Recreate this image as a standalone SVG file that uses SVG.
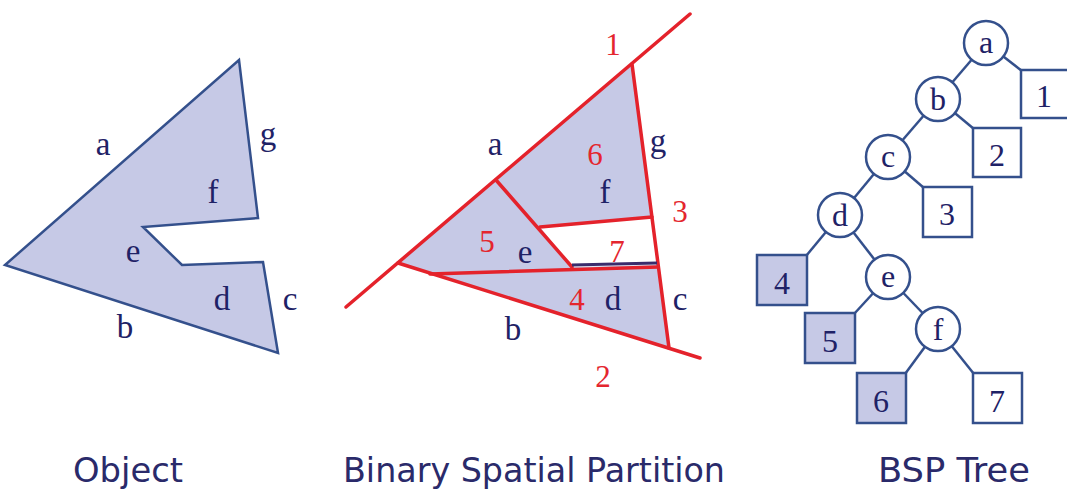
<svg xmlns="http://www.w3.org/2000/svg" width="1067" height="492" viewBox="0 0 1067 492">
<style>
.obj{fill:#C6C9E6;stroke:#34508C;stroke-width:2.5;stroke-linejoin:miter}
.fillp{fill:#C6C9E6;stroke:none}
.red{stroke:#E4222B;stroke-width:3.5;fill:none;stroke-linecap:round}
.lt{font-family:"Liberation Serif","Times New Roman",serif;font-size:33px;fill:#1F2266;text-anchor:middle}
.rn{font-family:"Liberation Serif","Times New Roman",serif;font-size:31px;fill:#E4262E;text-anchor:middle}
.tl{font-family:"Liberation Serif","Times New Roman",serif;font-size:32px;fill:#1F2266;text-anchor:middle}
.node{fill:#FFFFFF;stroke:#34508C;stroke-width:2.5}
.leaf{fill:#FFFFFF;stroke:#34508C;stroke-width:2.5}
.leafs{fill:#C6C9E6;stroke:#34508C;stroke-width:2.5}
.edge{stroke:#34508C;stroke-width:2.5;fill:none}
.cap{font-family:"DejaVu Sans","Verdana",sans-serif;font-size:34px;fill:#2A2A6A}
</style>
<rect width="1067" height="492" fill="#FFFFFF"/>

<!-- Object -->
<g id="object">
<polygon class="obj" points="239,60 258,218 143,227 182,265 263,262 278,353 5,265"/>
<text class="lt" x="103" y="155">a</text>
<text class="lt" x="268" y="145">g</text>
<text class="lt" x="213" y="203">f</text>
<text class="lt" x="133" y="262">e</text>
<text class="lt" x="222" y="310">d</text>
<text class="lt" x="290" y="310">c</text>
<text class="lt" x="125" y="338">b</text>
</g>

<!-- Binary Spatial Partition -->
<g id="partition">
<path class="fillp" fill-rule="evenodd" d="M398,263 L632,64 L669,348 Z M540,227 L652,217 L658,265 L572,267 Z"/>
<line class="red" x1="346" y1="307" x2="690" y2="14"/>
<line class="red" x1="398" y1="263" x2="700" y2="358"/>
<line class="red" x1="632" y1="64" x2="669" y2="348"/>
<line class="red" x1="496" y1="180" x2="572" y2="267"/>
<line class="red" x1="540" y1="227" x2="652" y2="217"/>
<line class="red" x1="430" y1="274" x2="658" y2="267"/>
<line x1="572" y1="265" x2="657" y2="263" stroke="#3A2C6C" stroke-width="3"/>
<text class="rn" x="613" y="55">1</text>
<text class="lt" x="495" y="155">a</text>
<text class="rn" x="595" y="165">6</text>
<text class="lt" x="658" y="152">g</text>
<text class="lt" x="605" y="203">f</text>
<text class="rn" x="680" y="222">3</text>
<text class="rn" x="487" y="252">5</text>
<text class="lt" x="525" y="263">e</text>
<text class="rn" x="617" y="262">7</text>
<text class="rn" x="577" y="310">4</text>
<text class="lt" x="613" y="310">d</text>
<text class="lt" x="680" y="310">c</text>
<text class="lt" x="513" y="340">b</text>
<text class="rn" x="603" y="387">2</text>
</g>

<!-- BSP Tree connectors -->
<g id="connectors">
<line class="edge" x1="986" y1="43" x2="938" y2="99"/>
<line class="edge" x1="986" y1="43" x2="1022" y2="71"/>
<line class="edge" x1="938" y1="99" x2="888" y2="157"/>
<line class="edge" x1="938" y1="99" x2="974" y2="129"/>
<line class="edge" x1="888" y1="157" x2="840" y2="215"/>
<line class="edge" x1="888" y1="157" x2="924" y2="188"/>
<line class="edge" x1="840" y1="215" x2="806" y2="256"/>
<line class="edge" x1="840" y1="215" x2="888" y2="277"/>
<line class="edge" x1="888" y1="277" x2="854" y2="314"/>
<line class="edge" x1="888" y1="277" x2="938" y2="329"/>
<line class="edge" x1="938" y1="329" x2="905" y2="374"/>
<line class="edge" x1="938" y1="329" x2="974" y2="374"/>
</g>

<g id="node-a"><circle class="node" cx="986" cy="43" r="22"/><text class="tl" x="986" y="53">a</text></g>
<g id="node-b"><circle class="node" cx="938" cy="99" r="22"/><text class="tl" x="938" y="110">b</text></g>
<g id="node-c"><circle class="node" cx="888" cy="157" r="22"/><text class="tl" x="888" y="167">c</text></g>
<g id="node-d"><circle class="node" cx="840" cy="215" r="22"/><text class="tl" x="840" y="226">d</text></g>
<g id="node-e"><circle class="node" cx="888" cy="277" r="22"/><text class="tl" x="888" y="287">e</text></g>
<g id="node-f"><circle class="node" cx="938" cy="329" r="22"/><text class="tl" x="938" y="340">f</text></g>

<g id="leaf-1"><rect class="leaf" x="1021" y="70" width="48" height="48"/><text class="tl" x="1044" y="107">1</text></g>
<g id="leaf-2"><rect class="leaf" x="973" y="128" width="48" height="49"/><text class="tl" x="997" y="166">2</text></g>
<g id="leaf-3"><rect class="leaf" x="923" y="187" width="49" height="50"/><text class="tl" x="947" y="225">3</text></g>
<g id="leaf-4"><rect class="leafs" x="757" y="255" width="50" height="50"/><text class="tl" x="782" y="294">4</text></g>
<g id="leaf-5"><rect class="leafs" x="805" y="313" width="50" height="50"/><text class="tl" x="830" y="352">5</text></g>
<g id="leaf-6"><rect class="leafs" x="857" y="373" width="49" height="50"/><text class="tl" x="881" y="412">6</text></g>
<g id="leaf-7"><rect class="leaf" x="973" y="373" width="49" height="50"/><text class="tl" x="997" y="412">7</text></g>

<!-- Captions -->
<g id="captions">
<text class="cap" x="73" y="482" textLength="110" lengthAdjust="spacingAndGlyphs">Object</text>
<text class="cap" x="343" y="482" textLength="382" lengthAdjust="spacingAndGlyphs">Binary Spatial Partition</text>
<text class="cap" x="878" y="482" textLength="152" lengthAdjust="spacingAndGlyphs">BSP Tree</text>
</g>
</svg>
